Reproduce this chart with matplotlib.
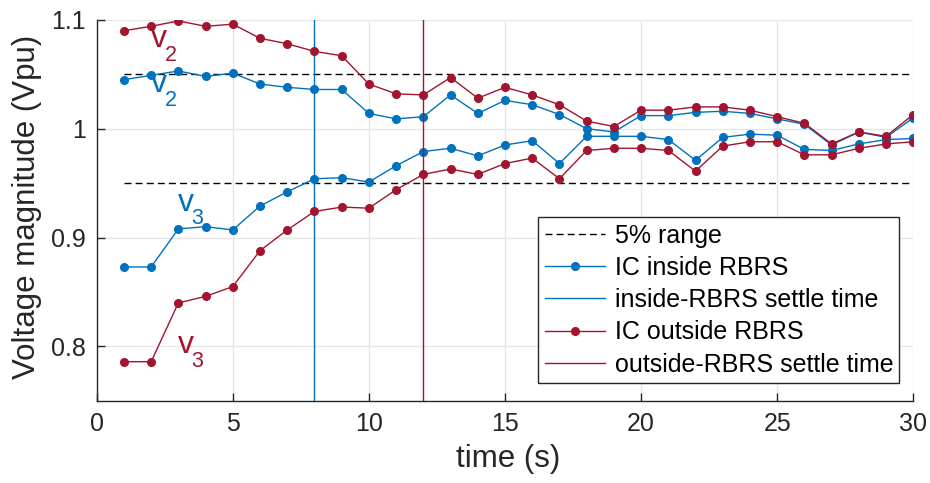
import numpy as np
import matplotlib
matplotlib.use("Agg")
import matplotlib.pyplot as plt

# --- Data ------------------------------------------------------------------
time_s = list(range(1, 31))

inside_v2 = [1.045, 1.049, 1.053, 1.048, 1.051, 1.041, 1.038, 1.036, 1.036, 1.014,
             1.009, 1.011, 1.031, 1.014, 1.026, 1.022, 1.013, 1.000, 0.997, 1.012,
             1.012, 1.015, 1.016, 1.014, 1.009, 1.004, 0.985, 0.997, 0.992, 1.010]
inside_v3 = [0.873, 0.873, 0.908, 0.910, 0.907, 0.929, 0.942, 0.954, 0.955, 0.951,
             0.966, 0.979, 0.982, 0.975, 0.985, 0.989, 0.968, 0.993, 0.993, 0.993,
             0.990, 0.971, 0.992, 0.995, 0.994, 0.981, 0.980, 0.986, 0.990, 0.991]
outside_v2 = [1.090, 1.094, 1.099, 1.094, 1.096, 1.083, 1.078, 1.071, 1.067, 1.041,
              1.032, 1.031, 1.047, 1.028, 1.038, 1.031, 1.022, 1.007, 1.002, 1.017,
              1.017, 1.020, 1.020, 1.017, 1.011, 1.005, 0.986, 0.997, 0.993, 1.013]
outside_v3 = [0.786, 0.786, 0.840, 0.846, 0.855, 0.888, 0.907, 0.924, 0.928, 0.927,
              0.944, 0.958, 0.963, 0.958, 0.968, 0.973, 0.954, 0.980, 0.982, 0.982,
              0.980, 0.961, 0.984, 0.988, 0.988, 0.976, 0.976, 0.982, 0.986, 0.988]

band = [0.95, 1.05]          # 5% range
settle_inside = 8
settle_outside = 12

# text labels: (x, y, subscript, colour)
BLUE = "#0072BD"
RED = "#A2142F"
annotations = [(2.0, 1.0751, "2", RED), (2.0, 1.0337, "2", BLUE),
               (3.0, 0.9248, "3", BLUE), (3.0, 0.7943, "3", RED)]

# --- Plot ------------------------------------------------------------------
plt.rcParams["font.family"] = ["Liberation Sans", "DejaVu Sans"]
INK = "#262626"

fig = plt.figure(figsize=(9.3, 4.83), dpi=100)
ax = fig.add_axes([0.104, 0.170, 0.878, 0.789])

x_band = [time_s[0], time_s[-1]]
ax.plot(x_band, [band[1]] * 2, color="k", lw=1.0, dashes=(5, 3),
        label="5% range", zorder=2)
ax.plot(x_band, [band[0]] * 2, color="k", lw=1.0, dashes=(5, 3), zorder=2)

mk = dict(marker="o", markersize=5.5, lw=1.0)
ax.plot(time_s, inside_v2, color=BLUE, label="IC inside RBRS", zorder=3, **mk)
ax.plot(time_s, inside_v3, color=BLUE, zorder=3, **mk)
ax.axvline(settle_inside, color=BLUE, lw=1.0, label="inside-RBRS settle time", zorder=3)
ax.plot(time_s, outside_v2, color=RED, label="IC outside RBRS", zorder=4, **mk)
ax.plot(time_s, outside_v3, color=RED, zorder=4, **mk)
ax.axvline(settle_outside, color=RED, lw=1.0, label="outside-RBRS settle time", zorder=4)

for x, y, sub, c in annotations:
    ax.text(x, y, "v", color=c, fontsize=23, ha="left", va="baseline", zorder=5)
    ax.annotate(sub, xy=(x, y), xytext=(9.6, -10), textcoords="offset points",
                color=c, fontsize=15.5, ha="left", va="baseline", zorder=5)

ax.set_xlim(0, 30)
ax.set_ylim(0.75, 1.1)
ax.set_xticks(np.arange(0, 31, 5))
ax.set_yticks([0.8, 0.9, 1.0, 1.1])
ax.set_yticklabels(["0.8", "0.9", "1", "1.1"])

ax.grid(True, color="#e6e6e6", lw=1.0, zorder=0)
ax.set_axisbelow(True)
for s in ["top", "right"]:
    ax.spines[s].set_visible(False)
for s in ["left", "bottom"]:
    ax.spines[s].set_color(INK)
    ax.spines[s].set_linewidth(1.0)
ax.tick_params(direction="in", length=5.8, width=1.0, color=INK, labelcolor=INK,
               labelsize=18, pad=8)

ax.set_xlabel("time (s)", fontsize=22.5, color=INK)
ax.set_ylabel("Voltage magnitude (Vpu)", fontsize=22.5, color=INK)
ax.xaxis.set_label_coords(0.504, -0.112)
ax.yaxis.set_label_coords(-0.067, 0.51)

leg = ax.legend(loc="lower right", bbox_to_anchor=(0.983, 0.047), fontsize=18,
                fancybox=False, framealpha=1, edgecolor=INK, numpoints=1,
                handlelength=2.4, handletextpad=0.4, labelspacing=0.33,
                borderpad=0.25, borderaxespad=0)
leg.get_frame().set_linewidth(1.0)
for t in leg.get_texts():
    t.set_color("k")

fig.savefig("out.png", dpi=100)
